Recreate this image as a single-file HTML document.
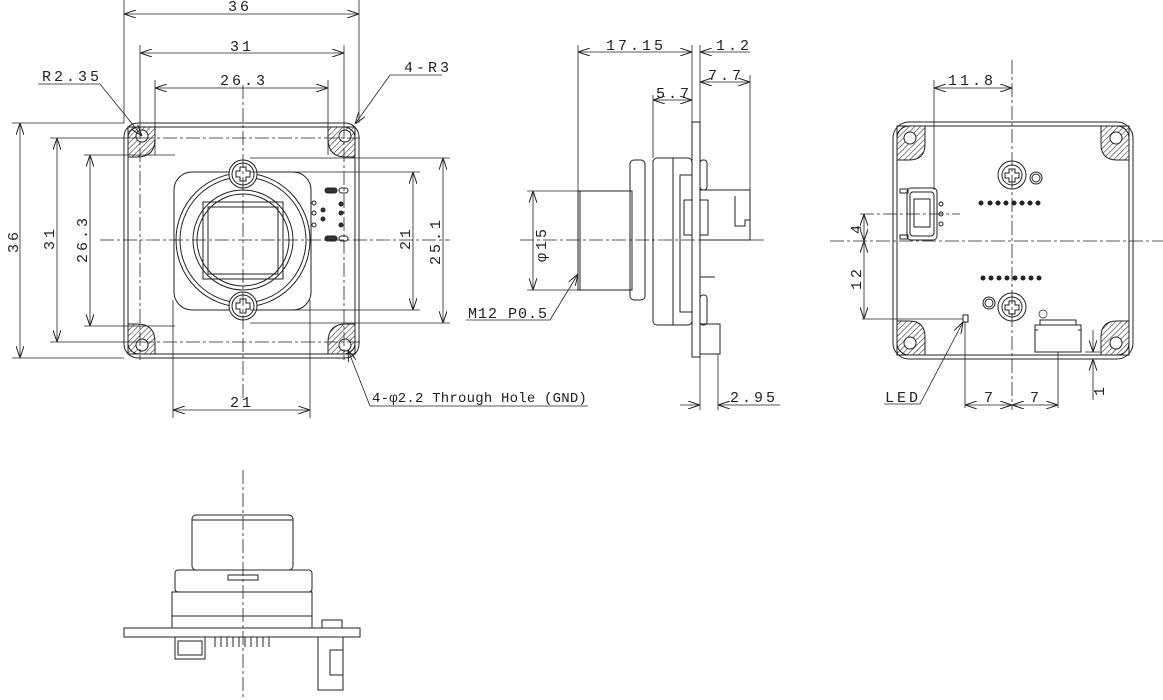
<!DOCTYPE html>
<html><head><style>html,body{margin:0;background:#fff}svg{display:block}text{font-family:"Liberation Mono",monospace;font-size:15px;letter-spacing:3px;fill:#222}</style></head><body>
<svg width="1163" height="700" viewBox="0 0 1163 700" xmlns="http://www.w3.org/2000/svg">
<defs>
<marker id="a" viewBox="0 0 12 8" refX="12" refY="4" markerWidth="12" markerHeight="8" orient="auto-start-reverse" markerUnits="userSpaceOnUse"><path d="M0,0 L12,4 L0,8" fill="none" stroke="#222" stroke-width="1"/></marker>
<pattern id="h" width="4" height="4" patternUnits="userSpaceOnUse" patternTransform="rotate(45)"><line x1="0" y1="0" x2="0" y2="4" stroke="#333" stroke-width="1.2"/></pattern>
</defs>
<g stroke="#222" fill="none" stroke-width="1">
<!-- FRONT VIEW -->
<rect x="124" y="123" width="235" height="235" rx="14"/>
<rect x="128" y="127" width="227" height="227" rx="11"/>
<g fill="url(#h)">
<path d="M128,127 h27 v12 q0,18 -18,18 h-9z"/><path d="M355,127 h-27 v12 q0,18 18,18 h9z"/>
<path d="M128,354 h27 v-12 q0,-18 -18,-18 h-9z"/><path d="M355,354 h-27 v-12 q0,-18 18,-18 h9z"/>
</g>
<g fill="#fff"><circle cx="142" cy="136" r="6"/><circle cx="345" cy="136" r="6"/><circle cx="142" cy="345" r="6"/><circle cx="345" cy="345" r="6"/></g>
<rect x="174" y="172" width="137" height="138" rx="18"/>
<circle cx="243" cy="240" r="67"/><circle cx="243" cy="240" r="63"/>
<circle cx="243" cy="240" r="50"/><circle cx="243" cy="240" r="46"/>
<rect x="203" y="202" width="80" height="77"/><rect x="208" y="207" width="70" height="67"/>
<circle cx="243" cy="174" r="14" fill="#fff"/><circle cx="243" cy="174" r="11"/>
<circle cx="243" cy="306" r="14" fill="#fff"/><circle cx="243" cy="306" r="11"/>
<path d="M240,167h6v4h4v6h-4v4h-6v-4h-4v-6h4z"/><path d="M240,299h6v4h4v6h-4v4h-6v-4h-4v-6h4z"/>
<rect x="325" y="188" width="12" height="5" rx="2.5" fill="#333"/><rect x="339" y="188" width="9" height="5" rx="2.5"/>
<rect x="325" y="236" width="12" height="5" rx="2.5" fill="#333"/><rect x="339" y="236" width="9" height="5" rx="2.5"/>
<g fill="#333"><circle cx="323" cy="210" r="2"/><circle cx="323" cy="219" r="2"/><circle cx="341" cy="204" r="2"/><circle cx="341" cy="213" r="2"/><circle cx="341" cy="225" r="2"/></g>
<circle cx="314" cy="203" r="2"/><circle cx="314" cy="213" r="2"/><circle cx="314" cy="225" r="2"/>
<g stroke-dasharray="14,3,3,3" stroke-width="0.8">
<line x1="243" y1="85" x2="243" y2="400"/><line x1="100" y1="240" x2="450" y2="240"/>
<line x1="140" y1="138" x2="360" y2="138"/><line x1="140" y1="342" x2="360" y2="342"/>
<line x1="140" y1="125" x2="140" y2="360"/><line x1="344" y1="125" x2="344" y2="360"/>
</g>
<g stroke-width="0.8">
<line x1="124" y1="0" x2="124" y2="123"/><line x1="359" y1="0" x2="359" y2="123"/>
<line x1="124" y1="14" x2="359" y2="14" marker-start="url(#a)" marker-end="url(#a)"/>
<line x1="140" y1="45" x2="140" y2="125"/><line x1="344" y1="45" x2="344" y2="125"/>
<line x1="140" y1="53" x2="344" y2="53" marker-start="url(#a)" marker-end="url(#a)"/>
<line x1="155" y1="80" x2="155" y2="155"/><line x1="328" y1="80" x2="328" y2="155"/>
<line x1="155" y1="88" x2="328" y2="88" marker-start="url(#a)" marker-end="url(#a)"/>
<line x1="12" y1="123" x2="124" y2="123"/><line x1="12" y1="358" x2="124" y2="358"/>
<line x1="20" y1="123" x2="20" y2="358" marker-start="url(#a)" marker-end="url(#a)"/>
<line x1="50" y1="138" x2="140" y2="138"/><line x1="50" y1="342" x2="140" y2="342"/>
<line x1="57" y1="138" x2="57" y2="342" marker-start="url(#a)" marker-end="url(#a)"/>
<line x1="84" y1="155" x2="175" y2="155"/><line x1="84" y1="326" x2="175" y2="326"/>
<line x1="90" y1="155" x2="90" y2="326" marker-start="url(#a)" marker-end="url(#a)"/>
<line x1="250" y1="172" x2="420" y2="172"/><line x1="250" y1="310" x2="420" y2="310"/>
<line x1="413" y1="172" x2="413" y2="310" marker-start="url(#a)" marker-end="url(#a)"/>
<line x1="250" y1="158" x2="450" y2="158"/><line x1="250" y1="323" x2="450" y2="323"/>
<line x1="443" y1="158" x2="443" y2="323" marker-start="url(#a)" marker-end="url(#a)"/>
<line x1="173" y1="300" x2="173" y2="418"/><line x1="310" y1="300" x2="310" y2="418"/>
<line x1="173" y1="410" x2="310" y2="410" marker-start="url(#a)" marker-end="url(#a)"/>
<polyline points="38,84 100,84 142,136" marker-end="url(#a)"/>
<polyline points="442,75 390,75 355,124" marker-end="url(#a)"/>
<polyline points="588,406 370,406 348,350" marker-end="url(#a)"/>
</g>
</g>
<text x="228" y="11">36</text><text x="230" y="51">31</text><text x="220" y="85">26.3</text>
<text x="42" y="81">R2.35</text><text x="404" y="72">4-R3</text>
<text x="230" y="407">21</text><text x="372" y="402" style="font-size:14px;letter-spacing:0.2px">4-φ2.2 Through Hole (GND)</text>
<text transform="translate(18,253) rotate(-90)">36</text>
<text transform="translate(54,250) rotate(-90)">31</text>
<text transform="translate(87,263) rotate(-90)">26.3</text>
<text transform="translate(410,250) rotate(-90)">21</text>
<text transform="translate(440,265) rotate(-90)">25.1</text>

<!-- SIDE VIEW -->
<g stroke="#222" fill="none" stroke-width="1">
<rect x="692" y="122" width="8" height="235"/>
<rect x="578" y="191" width="54" height="99"/><line x1="580" y1="191" x2="580" y2="290"/>
<rect x="630" y="160" width="15" height="140" rx="4"/>
<rect x="653" y="158" width="39" height="167" rx="4"/><line x1="673" y1="158" x2="673" y2="325"/>
<rect x="680" y="175" width="12" height="137"/>
<rect x="700" y="160" width="7" height="30" rx="3"/><rect x="700" y="295" width="7" height="30" rx="3"/>
<rect x="700" y="190" width="50" height="50"/><path d="M735,196 v30 h10 v-6 h5"/>
<rect x="684" y="200" width="8" height="35"/><rect x="700" y="200" width="8" height="35"/>
<line x1="700" y1="277" x2="715" y2="277"/>
<rect x="700" y="324" width="20" height="30"/>
<line x1="520" y1="240" x2="765" y2="240" stroke-dasharray="14,3,3,3" stroke-width="0.8"/>
<g stroke-width="0.8">
<line x1="578" y1="45" x2="578" y2="191"/><line x1="692" y1="45" x2="692" y2="122"/>
<line x1="578" y1="52" x2="692" y2="52" marker-start="url(#a)" marker-end="url(#a)"/>
<line x1="700" y1="45" x2="700" y2="122"/><line x1="700" y1="52" x2="750" y2="52" marker-start="url(#a)"/>
<line x1="750" y1="75" x2="750" y2="190"/><line x1="700" y1="82" x2="750" y2="82" marker-start="url(#a)" marker-end="url(#a)"/>
<line x1="653" y1="95" x2="653" y2="158"/><line x1="653" y1="100" x2="692" y2="100" marker-start="url(#a)" marker-end="url(#a)"/>
<line x1="527" y1="191" x2="578" y2="191"/><line x1="527" y1="290" x2="578" y2="290"/>
<line x1="533" y1="191" x2="533" y2="290" marker-start="url(#a)" marker-end="url(#a)"/>
<polyline points="466,320 550,320 578,274" marker-end="url(#a)"/>
<line x1="700" y1="357" x2="700" y2="410"/><line x1="718" y1="354" x2="718" y2="410"/>
<line x1="680" y1="405" x2="700" y2="405" marker-end="url(#a)"/><line x1="780" y1="405" x2="718" y2="405" marker-end="url(#a)"/>
</g></g>
<text x="606" y="50">17.15</text><text x="716" y="50">1.2</text><text x="708" y="80">7.7</text><text x="656" y="98">5.7</text>
<text transform="translate(546,262) rotate(-90)">φ15</text><text x="468" y="318" style="letter-spacing:1px">M12 P0.5</text><text x="730" y="402">2.95</text>

<!-- BACK VIEW -->
<g stroke="#222" fill="none" stroke-width="1">
<rect x="893" y="122" width="240" height="237" rx="16"/>
<rect x="897" y="126" width="232" height="229" rx="12"/>
<g fill="url(#h)">
<path d="M897,126 h28 v18 q0,16 -16,16 h-12z"/><path d="M1129,126 h-28 v18 q0,16 16,16 h12z"/>
<path d="M897,355 h28 v-18 q0,-16 -16,-16 h-12z"/><path d="M1129,355 h-28 v-18 q0,-16 16,-16 h12z"/>
</g>
<g fill="#fff"><circle cx="910" cy="138" r="6"/><circle cx="1116" cy="138" r="6"/><circle cx="910" cy="343" r="6"/><circle cx="1116" cy="343" r="6"/></g>
<circle cx="1012" cy="175" r="14"/><circle cx="1012" cy="175" r="10"/><circle cx="1036" cy="178" r="6"/><circle cx="1036" cy="178" r="4"/>
<circle cx="1012" cy="307" r="14"/><circle cx="1012" cy="307" r="10"/><circle cx="989" cy="303" r="6"/><circle cx="989" cy="303" r="4"/>
<path d="M1009,169h6v4h4v5h-4v4h-6v-4h-4v-5h4z"/><path d="M1009,301h6v4h4v5h-4v4h-6v-4h-4v-5h4z"/>
<rect x="907" y="188" width="30" height="52" rx="4"/><rect x="910" y="192" width="24" height="44" rx="3"/>
<rect x="914" y="199" width="16" height="28"/><rect x="900" y="189" width="8" height="4"/><rect x="900" y="235" width="8" height="4"/>
<circle cx="941" cy="204" r="2"/><circle cx="941" cy="214" r="2"/><circle cx="941" cy="224" r="2"/>
<rect x="963" y="315" width="5" height="7"/>
<rect x="1035" y="325" width="46" height="27"/><path d="M1040,325 v-5 h36 v5 M1038,330 h-3 M1078,330 h3"/>
<circle cx="1043" cy="314" r="4" stroke-width="0.7"/>
<g stroke-dasharray="14,3,3,3" stroke-width="0.8">
<line x1="1012" y1="60" x2="1012" y2="410"/><line x1="830" y1="241" x2="1163" y2="241"/><line x1="860" y1="214" x2="960" y2="214"/>
</g>
<g stroke-width="0.8">
<line x1="934" y1="80" x2="934" y2="190"/><line x1="934" y1="88" x2="1012" y2="88" marker-start="url(#a)" marker-end="url(#a)"/>
<line x1="864" y1="214" x2="864" y2="241" marker-start="url(#a)" marker-end="url(#a)"/>
<line x1="864" y1="241" x2="864" y2="319" marker-start="url(#a)" marker-end="url(#a)"/>
<line x1="862" y1="319" x2="963" y2="319"/>
<line x1="965" y1="322" x2="965" y2="408"/><line x1="1058" y1="352" x2="1058" y2="408"/>
<line x1="965" y1="405" x2="1012" y2="405" marker-start="url(#a)" marker-end="url(#a)"/>
<line x1="1012" y1="405" x2="1058" y2="405" marker-start="url(#a)" marker-end="url(#a)"/>
<line x1="1085" y1="352" x2="1100" y2="352"/><line x1="1093" y1="330" x2="1093" y2="352" marker-end="url(#a)"/><line x1="1093" y1="400" x2="1093" y2="359" marker-end="url(#a)"/>
<polyline points="884,404 920,404 963,322" marker-end="url(#a)"/>
</g></g>
<g fill="#222"><circle cx="981" cy="203" r="2.5"/><circle cx="990" cy="203" r="2.5"/><circle cx="998" cy="203" r="2.5"/><circle cx="1006" cy="203" r="2.5"/><circle cx="1014" cy="203" r="2.5"/><circle cx="1022" cy="203" r="2.5"/><circle cx="1030" cy="203" r="2.5"/><circle cx="1038" cy="203" r="2.5"/>
<circle cx="983" cy="278" r="2.5"/><circle cx="991" cy="278" r="2.5"/><circle cx="999" cy="278" r="2.5"/><circle cx="1007" cy="278" r="2.5"/><circle cx="1015" cy="278" r="2.5"/><circle cx="1023" cy="278" r="2.5"/><circle cx="1031" cy="278" r="2.5"/><circle cx="1039" cy="278" r="2.5"/></g>
<text x="948" y="85">11.8</text><text transform="translate(861,234) rotate(-90)">4</text><text transform="translate(861,290) rotate(-90)">12</text>
<text x="885" y="402">LED</text><text x="984" y="402">7</text><text x="1030" y="402">7</text><text transform="translate(1104,396) rotate(-90)">1</text>

<!-- BOTTOM VIEW -->
<g stroke="#222" fill="none" stroke-width="1">
<line x1="243" y1="470" x2="243" y2="700" stroke-dasharray="14,3,3,3" stroke-width="0.8"/>
<rect x="192" y="515" width="101" height="55" rx="4"/><line x1="192" y1="520" x2="293" y2="520"/>
<rect x="175" y="570" width="137" height="22" rx="3"/><rect x="172" y="592" width="140" height="24"/><rect x="172" y="616" width="140" height="12"/>
<path d="M228,580 h30 v-5 h-30z"/>
<rect x="124" y="628" width="236" height="9"/>
<rect x="175" y="637" width="30" height="22"/><rect x="178" y="641" width="24" height="14"/>
<path d="M215,637 v10 M221,637 v10 M227,637 v10 M233,637 v10 M239,637 v10 M245,637 v10 M251,637 v10 M257,637 v10 M263,637 v10 M269,637 v10"/>
<rect x="318" y="637" width="25" height="53"/><rect x="330" y="650" width="13" height="25"/>
<rect x="322" y="620" width="20" height="8"/>
</g>
</svg>
</body></html>
